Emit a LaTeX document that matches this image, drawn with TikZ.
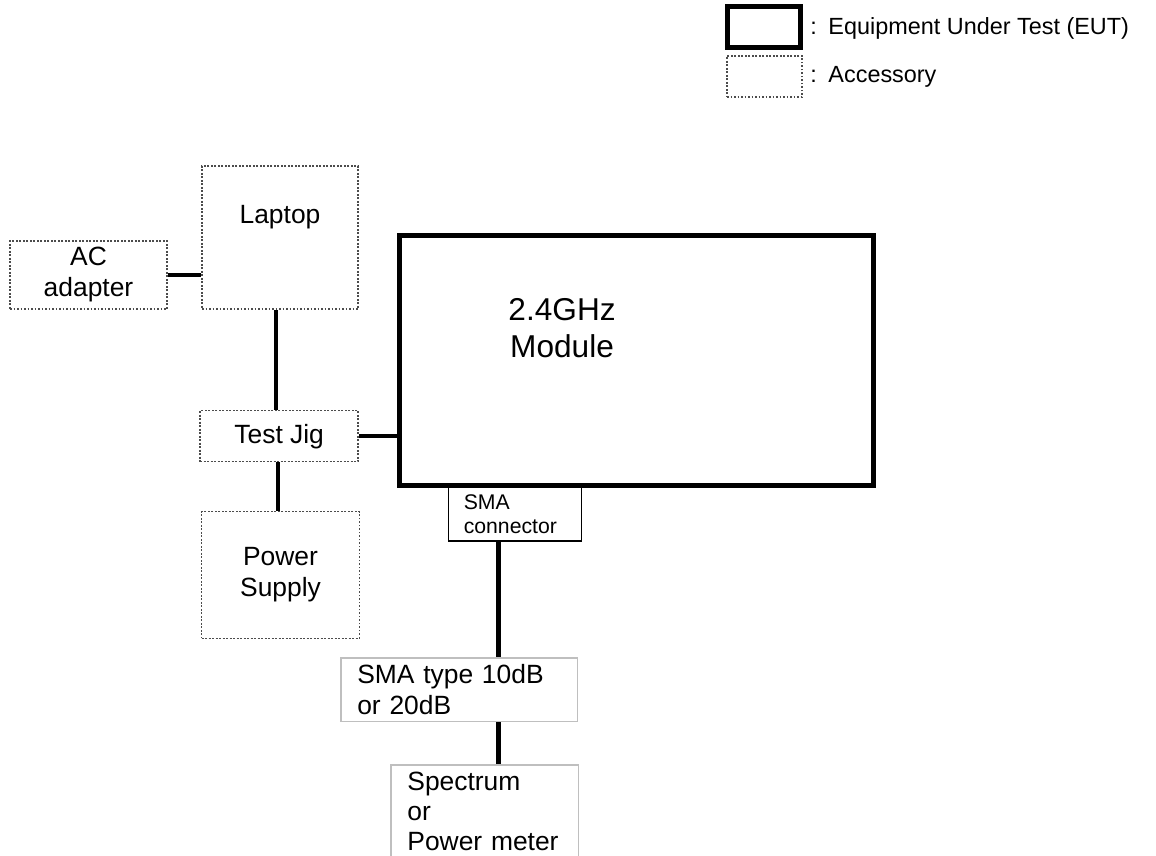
\documentclass[tikz,border=0pt]{standalone}
\usepackage{fontspec}
\setmainfont{Liberation Sans}
\usetikzlibrary{positioning,calc}

\newcommand{\boxfont}{\fontsize{13.2pt}{15.5pt}\selectfont}
\newcommand{\keyfont}{\fontsize{11.7pt}{14pt}\selectfont}
\newcommand{\eutfont}{\fontsize{15.8pt}{18.5pt}\selectfont}
\newcommand{\partfont}{\fontsize{10.6pt}{12pt}\selectfont}

\begin{document}
\begin{tikzpicture}[x=0.5pt, y=-0.5pt,
    eut/.style={draw, line width=2.5pt, inner sep=0pt},
    acc/.style={draw=black!70, line width=0.75pt, dash pattern=on 0.9pt off 0.85pt,
        inner sep=0pt, font=\boxfont, align=center},
    part/.style={draw, line width=0.7pt, font=\partfont, align=left, inner ysep=0pt},
    meter/.style={draw=black!25, line width=0.8pt, font=\boxfont, align=left},
    wire/.style={line width=2.2pt}]
    \path[use as bounding box, clip] (0,0) rectangle (1156,856);

    % Legend
    \node[eut, minimum width=36.5pt, minimum height=20.5pt] (eutkey) at (764,27.5) {};
    \node[acc, minimum width=37.5pt, minimum height=20.5pt] (acckey) at (764.5,76.5) {};
    \node[anchor=base west, inner sep=0pt, font=\keyfont] (eutnote) at (810,35)
        {:\hspace{5.8pt}Equipment Under Test (EUT)};
    \node[anchor=base west, inner sep=0pt, font=\keyfont] (accnote) at (810,83)
        {:\hspace{5.8pt}Accessory};

    % Accessories
    \node[acc, minimum width=78.5pt, minimum height=34pt] (ac) at (88.5,275) {AC\\adapter};
    \node[acc, minimum width=78pt, minimum height=71.5pt,
        label={[font=\boxfont, anchor=north, inner sep=0pt, yshift=-19.9pt]north:Laptop}]
        (laptop) at (280,237.5) {};
    \node[acc, minimum width=79pt, minimum height=25.5pt] (jig) at (279.2,436.2) {Test Jig};
    \node[acc, minimum width=78.8pt, minimum height=63.3pt] (power) at (280.5,575) {Power\\Supply};

    % EUT
    \node[eut, minimum width=236.75pt, minimum height=125pt,
        label={[font=\eutfont, align=center, xshift=-37.1pt, yshift=16pt]center:2.4GHz\\Module}]
        (module) at (636.25,360.5) {};
    \node[part, minimum height=27pt, text width=51.2pt, inner xsep=7.75pt] (sma) at (515,514)
        {SMA\\connector};

    % Measurement chain
    \node[meter, minimum height=30.3pt, text width=101.7pt, inner xsep=8.3pt] (att) at (459,689.7)
        {SMA type 10dB\\or 20dB};
    \node[meter, anchor=north, text width=77.3pt, inner xsep=8.2pt, inner ysep=3.5pt,
        font=\fontsize{13.2pt}{15pt}\selectfont] (spec)
        at (484.7,764) {Spectrum\\or\\Power meter};

    % Cables
    \draw[wire] (ac.east) -- (ac.east -| laptop.west);
    \draw[wire] ([xshift=-2pt]laptop.south) -- ([xshift=-2pt]laptop.south |- jig.north);
    \draw[wire] (jig.east) -- (jig.east -| module.west);
    \draw[wire] ([xshift=-0.6pt]jig.south) -- ([xshift=-0.6pt]jig.south |- power.north);
    \coordinate (tap) at ([xshift=-8.25pt]sma.south);
    \draw[wire] (tap) -- (tap |- att.north);
    \draw[wire] (tap |- att.south) -- (tap |- spec.north);
\end{tikzpicture}
\end{document}
